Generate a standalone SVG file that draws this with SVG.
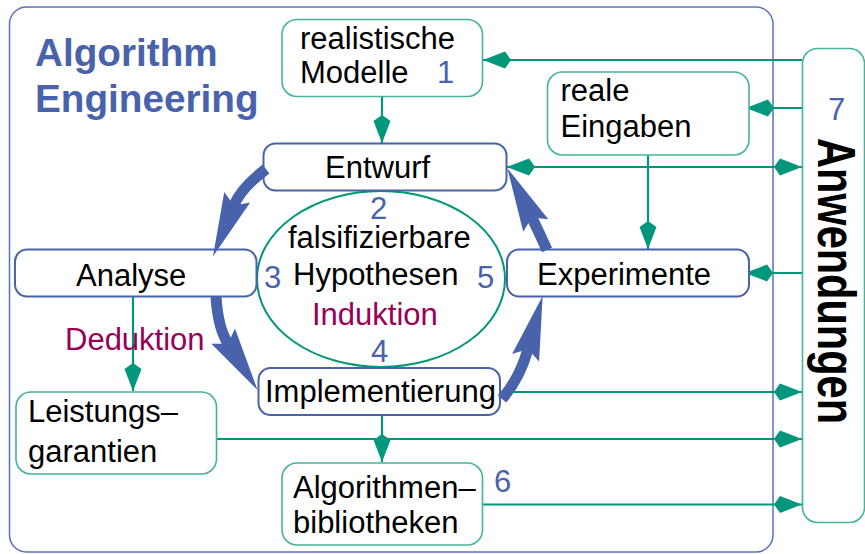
<svg xmlns="http://www.w3.org/2000/svg" width="865" height="554" viewBox="0 0 865 554">
  <style>
    text { font-family: "Liberation Sans", Arial, Helvetica, sans-serif; font-size: 31px; fill: #000; }
    .num { fill: #4863ac; }
    .logic { fill: #990055; }
    .title { font-weight: bold; font-size: 38.7px; fill: #4863ac; }
    .side { font-weight: bold; font-size: 54px; }
    .boxB { fill: #fff; stroke: #4863ac; stroke-width: 2; }
    .boxT { fill: #fff; stroke: #45b39b; stroke-width: 1.6; }
    .link { fill: none; stroke: #00977c; stroke-width: 2.2; }
    .cycle { fill: none; stroke: #4863ac; stroke-width: 11; }
  </style>
  <defs>
    <marker id="dia" markerUnits="userSpaceOnUse" orient="auto-start-reverse" overflow="visible" markerWidth="30" markerHeight="20" refX="0" refY="0">
      <path d="M0,0 L-22,-8.5 L-28,0 L-22,8.5 Z" fill="#00977c"/>
    </marker>
    <marker id="head" markerUnits="userSpaceOnUse" orient="auto" overflow="visible" markerWidth="60" markerHeight="30" refX="0" refY="0">
      <path d="M0,0 L-9,-14 L55,0 L-9,14 Z" fill="#4863ac"/>
    </marker>
  </defs>

  <!-- outer frame -->
  <rect x="9.5" y="7" width="763.5" height="545" rx="17" fill="none" stroke="#5a72bb" stroke-width="1.5"/>

  <g id="title">
    <text class="title" x="35" y="66">Algorithm</text>
    <text class="title" x="35" y="112">Engineering</text>
  </g>

  <g id="connectors">
    <!-- teal dependency links -->
    <path class="link" d="M802,60 H483" marker-end="url(#dia)"/>
    <path class="link" d="M802,108 H746" marker-end="url(#dia)"/>
    <path class="link" d="M507,167 H802" marker-start="url(#dia)" marker-end="url(#dia)"/>
    <path class="link" d="M802,273 H745" marker-end="url(#dia)"/>
    <path class="link" d="M500,392 H802" marker-end="url(#dia)"/>
    <path class="link" d="M217,439 H802" marker-end="url(#dia)"/>
    <path class="link" d="M483,504.5 H802" marker-end="url(#dia)"/>
    <path class="link" d="M382,97 V143" marker-end="url(#dia)"/>
    <path class="link" d="M648,155 V249" marker-end="url(#dia)"/>
    <path class="link" d="M382,415 V462" marker-end="url(#dia)"/>
    <path class="link" d="M133,297 V391" marker-end="url(#dia)"/>
  </g>

  <g id="anwendungen">
    <rect x="802.5" y="48.5" width="62" height="474" rx="15" fill="#fff" stroke="#45b39b" stroke-width="1.6"/>
    <text class="num" x="828" y="120">7</text>
    <text class="side" transform="translate(818,138) rotate(90)" x="0" y="0" textLength="286" lengthAdjust="spacingAndGlyphs">Anwendungen</text>
  </g>

  <g id="modelle">
    <rect class="boxT" x="282" y="19.5" width="200.5" height="77" rx="15"/>
    <text x="300" y="49">realistische</text>
    <text x="300" y="83">Modelle</text>
    <text class="num" x="437" y="83">1</text>
  </g>

  <g id="eingaben">
    <rect class="boxT" x="547.5" y="72" width="201.5" height="83" rx="15"/>
    <text x="560.5" y="100.5">reale</text>
    <text x="560.5" y="137">Eingaben</text>
  </g>

  <g id="hypothesen">
    <ellipse cx="381" cy="279" rx="124" ry="88" fill="none" stroke="#00977c" stroke-width="2"/>
    <text class="num" x="370" y="219">2</text>
    <text x="288" y="248">falsifizierbare</text>
    <text x="293" y="285">Hypothesen</text>
    <text class="num" x="264" y="288">3</text>
    <text class="num" x="477" y="288">5</text>
    <text class="logic" x="312" y="325">Induktion</text>
    <text class="num" x="371" y="362">4</text>
  </g>

  <g id="entwurf">
    <rect class="boxB" x="263.5" y="143.5" width="243" height="47" rx="12"/>
    <text x="325" y="178">Entwurf</text>
  </g>

  <g id="analyse">
    <rect class="boxB" x="15" y="249.5" width="241.5" height="47" rx="12"/>
    <text x="76" y="286">Analyse</text>
  </g>

  <g id="experimente">
    <rect class="boxB" x="507" y="249.5" width="242" height="47" rx="12"/>
    <text x="537" y="285">Experimente</text>
  </g>

  <g id="implementierung">
    <rect class="boxB" x="258.5" y="368" width="241.5" height="47" rx="12"/>
    <text x="265" y="402">Implementierung</text>
  </g>

  <g id="garantien">
    <rect class="boxT" x="16" y="392" width="200.5" height="82" rx="15"/>
    <text x="28" y="421.5">Leistungs–</text>
    <text x="28" y="461.5">garantien</text>
  </g>

  <g id="bibliotheken">
    <rect class="boxT" x="282" y="463" width="200.5" height="82" rx="15"/>
    <text x="293" y="498">Algorithmen–</text>
    <text x="293" y="533">bibliotheken</text>
    <text class="num" x="494" y="491.5">6</text>
  </g>

  <g id="cycle">
    <!-- development cycle arrows -->
    <path class="cycle" d="M266,169 Q241,188 233.8,205.6" marker-end="url(#head)"/>
    <path class="cycle" d="M216,297 Q218,328 228,343.7" marker-end="url(#head)"/>
    <path class="cycle" d="M502,399 Q520,378 528,349" marker-end="url(#head)"/>
    <path class="cycle" d="M547,250 Q537,228 531.8,217.5" marker-end="url(#head)"/>
    <text class="logic" x="65" y="350">Deduktion</text>
  </g>
</svg>
